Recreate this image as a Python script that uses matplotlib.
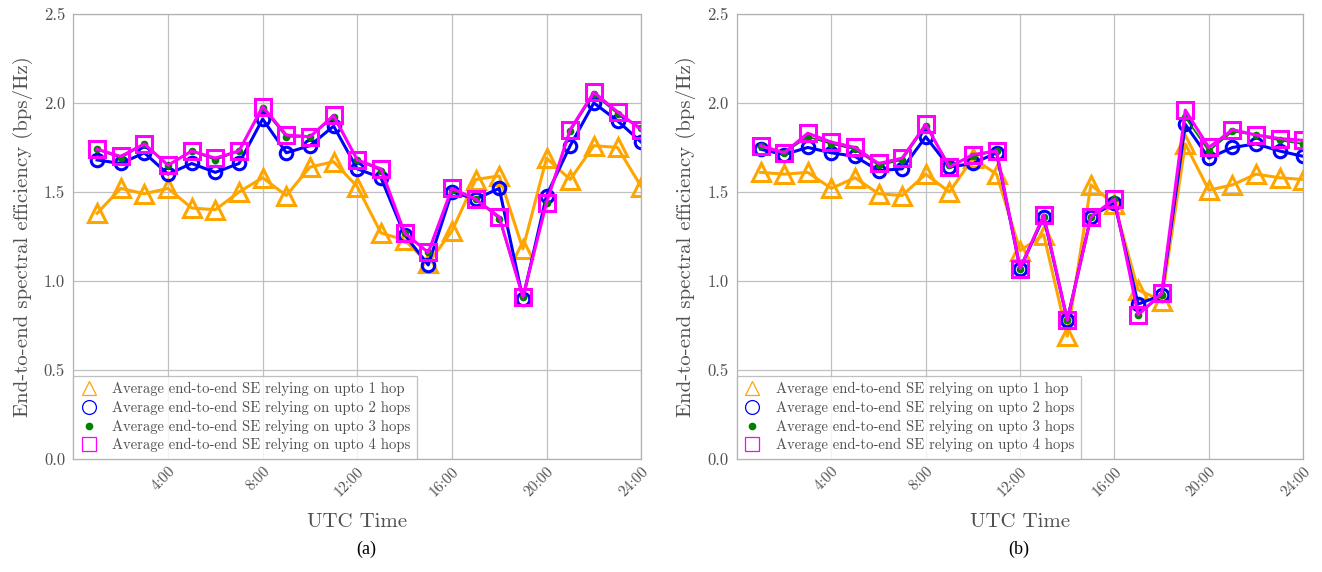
import numpy as np
import matplotlib
matplotlib.use('Agg')
import matplotlib.pyplot as plt
from matplotlib.lines import Line2D

plt.rcParams['font.family'] = ['cmr10', 'DejaVu Serif']
plt.rcParams['mathtext.fontset'] = 'cm'
plt.rcParams['axes.unicode_minus'] = False
plt.rcParams['axes.formatter.use_mathtext'] = True

hours = np.arange(1, 25)
tick_hours = [4, 8, 12, 16, 20, 24]
tick_labels = ['4:00', '8:00', '12:00', '16:00', '20:00', '24:00']
y_ticks = [0.0, 0.5, 1.0, 1.5, 2.0, 2.5]

# (a)
a_hop1 = [1.38, 1.52, 1.49, 1.52, 1.41, 1.40, 1.50, 1.58, 1.48, 1.64, 1.67, 1.53,
          1.27, 1.23, 1.10, 1.28, 1.57, 1.59, 1.18, 1.69, 1.57, 1.76, 1.75, 1.53]
a_hop2 = [1.68, 1.66, 1.72, 1.60, 1.66, 1.61, 1.66, 1.91, 1.72, 1.76, 1.87, 1.63,
          1.58, 1.26, 1.09, 1.50, 1.46, 1.52, 0.90, 1.48, 1.76, 2.00, 1.90, 1.78]
a_hop3 = [1.74, 1.69, 1.77, 1.65, 1.73, 1.68, 1.73, 1.97, 1.81, 1.81, 1.92, 1.68,
          1.62, 1.27, 1.16, 1.51, 1.46, 1.35, 0.91, 1.44, 1.84, 2.05, 1.94, 1.86]
a_hop4 = [1.74, 1.70, 1.77, 1.65, 1.73, 1.69, 1.73, 1.98, 1.82, 1.81, 1.93, 1.68,
          1.63, 1.27, 1.16, 1.52, 1.46, 1.36, 0.91, 1.44, 1.85, 2.06, 1.95, 1.85]

# (b)
b_hop1 = [1.61, 1.60, 1.61, 1.52, 1.58, 1.49, 1.48, 1.60, 1.50, 1.69, 1.60, 1.17,
          1.26, 0.69, 1.54, 1.43, 0.95, 0.89, 1.77, 1.51, 1.54, 1.60, 1.58, 1.57]
b_hop2 = [1.74, 1.71, 1.75, 1.72, 1.70, 1.62, 1.63, 1.81, 1.64, 1.66, 1.72, 1.07,
          1.36, 0.78, 1.36, 1.44, 0.87, 0.92, 1.88, 1.69, 1.75, 1.77, 1.73, 1.70]
b_hop3 = [1.76, 1.72, 1.81, 1.77, 1.74, 1.65, 1.68, 1.87, 1.65, 1.70, 1.73, 1.07,
          1.36, 0.78, 1.36, 1.46, 0.81, 0.92, 1.92, 1.73, 1.84, 1.82, 1.79, 1.77]
b_hop4 = [1.76, 1.72, 1.83, 1.78, 1.75, 1.66, 1.69, 1.88, 1.64, 1.71, 1.73, 1.07,
          1.37, 0.78, 1.36, 1.46, 0.81, 0.93, 1.96, 1.75, 1.85, 1.82, 1.80, 1.79]

labels = ['Average end-to-end SE relying on upto 1 hop',
          'Average end-to-end SE relying on upto 2 hops',
          'Average end-to-end SE relying on upto 3 hops',
          'Average end-to-end SE relying on upto 4 hops']

ORANGE = '#FFA500'
BLUE = '#0000FF'
GREEN = '#008000'
MAGENTA = '#FF00FF'
TXT = '#505050'
GRID = '#c0c0c0'


def draw(ax, h1, h2, h3, h4):
    ax.plot(hours, h1, color=ORANGE, lw=2.2, marker='^', ms=13, mfc='none', mew=2.2)
    ax.plot(hours, h2, color=BLUE, lw=2.2, marker='o', ms=9, mfc='none', mew=2.2)
    ax.plot(hours, h3, color=GREEN, lw=1.3, marker='o', ms=4.5, mfc=GREEN, mec=GREEN)
    ax.plot(hours, h4, color=MAGENTA, lw=2.2, marker='s', ms=11, mfc='none', mew=2.2)
    ax.set_xlim(0, 24)
    ax.set_ylim(0, 2.5)
    ax.set_xticks(tick_hours)
    ax.set_xticklabels(tick_labels, rotation=45, ha='right', rotation_mode='anchor',
                       color=TXT, fontsize=11)
    ax.set_yticks(y_ticks)
    ax.set_yticklabels(['%.1f' % v for v in y_ticks], color=TXT, fontsize=12)
    ax.tick_params(axis='y', length=0, pad=6)
    ax.tick_params(axis='x', length=0, pad=4)
    ax.grid(True, color=GRID, lw=0.9)
    ax.set_axisbelow(True)
    for s in ax.spines.values():
        s.set_color('#b0b0b0')
        s.set_linewidth(0.9)
    ax.set_xlabel('UTC Time', color=TXT, fontsize=15, labelpad=10)
    ax.set_ylabel('End-to-end spectral efficiency (bps/Hz)', color=TXT, fontsize=15, labelpad=8)

    handles = [
        Line2D([], [], ls='none', marker='^', ms=10, mfc='none', mec=ORANGE, mew=0.9),
        Line2D([], [], ls='none', marker='o', ms=10, mfc='none', mec=BLUE, mew=0.9),
        Line2D([], [], ls='none', marker='o', ms=4.5, mfc=GREEN, mec=GREEN),
        Line2D([], [], ls='none', marker='s', ms=10, mfc='none', mec=MAGENTA, mew=0.9),
    ]
    leg = ax.legend(handles, labels, loc='lower left', fontsize=10.6, frameon=True,
                    fancybox=False, borderaxespad=0, handlelength=1.2, handletextpad=1.0,
                    labelspacing=0.3, borderpad=0.45, labelcolor=TXT)
    leg.get_frame().set_edgecolor('#b0b0b0')
    leg.get_frame().set_linewidth(0.9)


fig = plt.figure(figsize=(13.22, 5.72), dpi=100)
ax1 = fig.add_axes([0.0555, 0.1976, 0.4295, 0.778])
ax2 = fig.add_axes([0.5575, 0.1976, 0.4283, 0.778])

draw(ax1, a_hop1, a_hop2, a_hop3, a_hop4)
draw(ax2, b_hop1, b_hop2, b_hop3, b_hop4)

fig.text(366 / 1322, 1 - 549 / 572, '(a)', ha='center', va='center',
         fontsize=13, family=['Liberation Serif', 'DejaVu Serif'])
fig.text(1019 / 1322, 1 - 549 / 572, '(b)', ha='center', va='center',
         fontsize=13, family=['Liberation Serif', 'DejaVu Serif'])

fig.savefig('out.png', dpi=100)
